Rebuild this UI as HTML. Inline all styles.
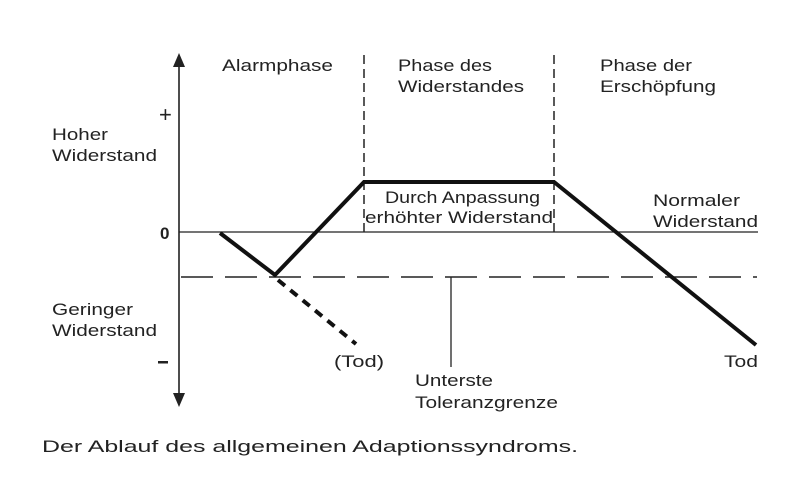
<!DOCTYPE html>
<html><head><meta charset="utf-8"><style>
html,body{margin:0;padding:0;background:#fff;}
svg{display:block;}
text{font-family:"Liberation Sans",Arial,sans-serif;font-size:17px;fill:#222;}
</style></head><body>
<svg width="798" height="500" viewBox="0 0 798 500" xmlns="http://www.w3.org/2000/svg">
<rect width="798" height="500" fill="#fff"/>
<line x1="179" y1="62" x2="179" y2="398" stroke="#222" stroke-width="1.6"/>
<polygon points="179,53 173,67 185,67" fill="#222"/>
<polygon points="179,407 173,393 185,393" fill="#222"/>
<line x1="179" y1="232" x2="758" y2="232" stroke="#222" stroke-width="1.3"/>
<line x1="181" y1="277" x2="757" y2="277" stroke="#222" stroke-width="1.5" stroke-dasharray="32,12"/>
<line x1="364" y1="55" x2="364" y2="232" stroke="#222" stroke-width="1.5" stroke-dasharray="9,5"/>
<line x1="554" y1="55" x2="554" y2="232" stroke="#222" stroke-width="1.5" stroke-dasharray="9,5"/>
<line x1="451" y1="277" x2="451" y2="367" stroke="#222" stroke-width="1.3"/>
<polyline points="220,233 275,275 364,182 554,182 756,345" fill="none" stroke="#111" stroke-width="4"/>
<line x1="278" y1="280" x2="356" y2="344" stroke="#111" stroke-width="4" stroke-dasharray="9,7"/>
<text x="222" y="71" textLength="111" lengthAdjust="spacingAndGlyphs">Alarmphase</text>
<text x="398" y="71" textLength="94" lengthAdjust="spacingAndGlyphs">Phase des</text>
<text x="398" y="92" textLength="126" lengthAdjust="spacingAndGlyphs">Widerstandes</text>
<text x="600" y="71" textLength="92" lengthAdjust="spacingAndGlyphs">Phase der</text>
<text x="600" y="92" textLength="116" lengthAdjust="spacingAndGlyphs">Erschöpfung</text>
<text x="159" y="122" style="font-size:22px">+</text>
<text x="52" y="140" textLength="56" lengthAdjust="spacingAndGlyphs">Hoher</text>
<text x="52" y="161" textLength="105" lengthAdjust="spacingAndGlyphs">Widerstand</text>
<text x="160" y="239" style="font-weight:bold">0</text>
<text x="52" y="315" textLength="81" lengthAdjust="spacingAndGlyphs">Geringer</text>
<text x="52" y="336" textLength="105" lengthAdjust="spacingAndGlyphs">Widerstand</text>
<rect x="158" y="361" width="10" height="2.5" fill="#222"/>
<text x="385" y="203" textLength="155" lengthAdjust="spacingAndGlyphs">Durch Anpassung</text>
<text x="365" y="223" textLength="188" lengthAdjust="spacingAndGlyphs">erhöhter Widerstand</text>
<text x="653" y="206" textLength="87" lengthAdjust="spacingAndGlyphs">Normaler</text>
<text x="653" y="227" textLength="105" lengthAdjust="spacingAndGlyphs">Widerstand</text>
<text x="334" y="367" textLength="50" lengthAdjust="spacingAndGlyphs">(Tod)</text>
<text x="724" y="367" textLength="34" lengthAdjust="spacingAndGlyphs">Tod</text>
<text x="415" y="386" textLength="78" lengthAdjust="spacingAndGlyphs">Unterste</text>
<text x="415" y="408" textLength="143" lengthAdjust="spacingAndGlyphs">Toleranzgrenze</text>
<text x="42" y="452" style="font-size:17px" textLength="536" lengthAdjust="spacingAndGlyphs">Der Ablauf des allgemeinen Adaptionssyndroms.</text>
</svg>
</body></html>
